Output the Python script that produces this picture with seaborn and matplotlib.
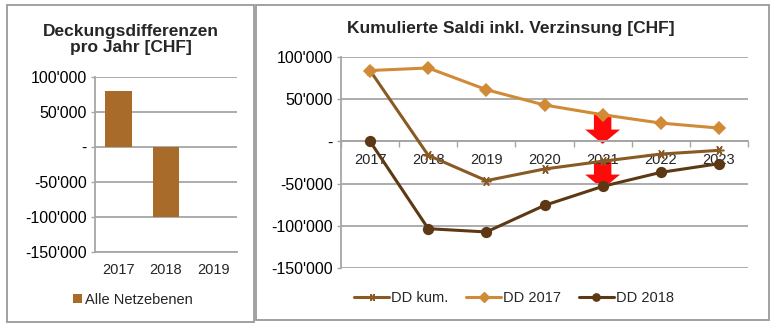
import numpy as np
import pandas as pd
import matplotlib
matplotlib.use("Agg")
import matplotlib.pyplot as plt
from matplotlib.patches import Polygon, Rectangle, Patch
from matplotlib.lines import Line2D
from matplotlib.ticker import FuncFormatter
import seaborn as sns

# Deckungsdifferenzen pro Jahr
bar_years = ["2017", "2018", "2019"]
bar_values = [80000, -100000]

# Kumulierte Saldi inkl. Verzinsung
years = ["2017", "2018", "2019", "2020", "2021", "2022", "2023"]
dd_kum = [84000, -16500, -46500, -32700, -23500, -15000, -10600]
dd_2017 = [84000, 87000, 61300, 43100, 31600, 21700, 15800]
dd_2018 = [0, -103400, -107300, -75800, -53300, -36700, -26400]

y_ticks = [-150000, -100000, -50000, 0, 50000, 100000]

c_bar = "#A86B2A"
c_kum = "#8A5A24"
c_2017 = "#D18B36"
c_2018 = "#5C3914"
c_red = "#FF0A0A"
c_grid = "#A6A6A6"
c_frame = "#9A9A9A"

sns.set_theme(style="white")
plt.rcParams["font.family"] = ["Liberation Sans", "DejaVu Sans"]

W, H = 777, 328
fig = plt.figure(figsize=(W / 100, H / 100), dpi=100)


def chf(v, pos=None):
    if v == 0:
        return "-"
    return f"{int(round(v)):,}".replace(",", "'")


def style_y(ax):
    ax.set_ylim(y_ticks[0], y_ticks[-1])
    ax.set_yticks(y_ticks)
    ax.yaxis.set_major_formatter(FuncFormatter(chf))
    ax.yaxis.grid(True, color=c_grid, lw=1.3)
    ax.set_axisbelow(True)
    ax.tick_params(axis="y", labelsize=11.5, length=3, width=1,
                   color=c_grid, pad=3, left=True, labelcolor="black")
    ax.set_xlabel("")
    ax.set_ylabel("")
    for s in ("top", "right"):
        ax.spines[s].set_visible(False)
    for s in ("left", "bottom"):
        ax.spines[s].set_color(c_grid)
        ax.spines[s].set_linewidth(1.3)


# ---- left panel: yearly differences (bars) ----
axL = fig.add_axes([95 / W, 1 - 252 / H, 142 / W, 175 / H])
sns.barplot(x=bar_years[:len(bar_values)], y=bar_values, order=bar_years,
            color=c_bar, saturation=1, width=0.57, linewidth=0,
            errorbar=None, ax=axL)
style_y(axL)
axL.tick_params(axis="x", labelsize=10.5, length=0, pad=8)

fig.text(130.5 / W, 1 - 39.5 / H, "Deckungsdifferenzen\npro Jahr [CHF]",
         ha="center", va="center", fontsize=12.5, fontweight="bold",
         linespacing=1.15)
fig.legend(handles=[Patch(facecolor=c_bar, edgecolor="none")],
           labels=["Alle Netzebenen"], loc="center",
           bbox_to_anchor=(133 / W, 1 - 300 / H), frameon=False,
           fontsize=10.5, handlelength=0.6, handleheight=0.6,
           handletextpad=0.2, borderpad=0)

# ---- right panel: cumulative balances (lines) ----
axR = fig.add_axes([341 / W, 1 - 268 / H, 407 / W, 211 / H])
series = [
    (dd_kum, c_kum, (6, 2, 90), 7, "DD kum."),
    (dd_2017, c_2017, "D", 6.2, "DD 2017"),
    (dd_2018, c_2018, "o", 7, "DD 2018"),
]
for vals, col, mk, ms, lab in series:
    sns.pointplot(x=years, y=vals, order=years, color=col, markers=mk,
                  markersize=ms, linewidth=2.2, markeredgewidth=1.1,
                  errorbar=None, ax=axR, zorder=3)

style_y(axR)
axR.set_xlim(-0.5, len(years) - 0.5)
axR.spines["bottom"].set_position(("data", 0))
axR.set_xticks(range(len(years)))
axR.set_xticklabels(years)
axR.set_xticks(np.arange(-0.5, len(years), 1.0), minor=True)
axR.tick_params(axis="x", which="major", labelsize=10.5, length=0, pad=8)
axR.tick_params(axis="x", which="minor", length=4, width=1, color=c_grid,
                bottom=True, direction="out")

# red arrows at 2021: from the upper curve down to the lower one
i21 = years.index("2021")
shaft, head, head_len, overshoot = 0.15, 0.30, 17000, 3000
for y_top, y_end in [(dd_2017[i21], 0), (dd_kum[i21], dd_2018[i21])]:
    tip = y_end - overshoot
    neck = tip + head_len
    verts = [(i21 - shaft, y_top), (i21 + shaft, y_top),
             (i21 + shaft, neck), (i21 + head, neck), (i21, tip),
             (i21 - head, neck), (i21 - shaft, neck)]
    axR.add_patch(Polygon(verts, closed=True, facecolor=c_red,
                          edgecolor="none", zorder=0.4))

fig.text(511 / W, 1 - 28 / H, "Kumulierte Saldi inkl. Verzinsung [CHF]",
         ha="center", va="center", fontsize=12.5, fontweight="bold")

handles = [Line2D([], [], color=col, marker=mk, markersize=ms * 0.75,
                  lw=2.2, markeredgewidth=1.0)
           for _, col, mk, ms, _ in series]
fig.legend(handles=handles, labels=[s[4] for s in series], loc="center",
           bbox_to_anchor=(514 / W, 1 - 298 / H), ncol=3, frameon=False,
           fontsize=10.5, handlelength=2.4, handletextpad=0.15,
           columnspacing=1.2, borderpad=0)

# panel frames
for x0, y0, x1, y1 in [(7, 5, 254, 322), (256, 5, 769, 320)]:
    fig.add_artist(Rectangle((x0 / W, 1 - y1 / H), (x1 - x0) / W,
                             (y1 - y0) / H, transform=fig.transFigure,
                             fill=False, edgecolor=c_frame, lw=1.3))

fig.savefig("out.png", dpi=100)
